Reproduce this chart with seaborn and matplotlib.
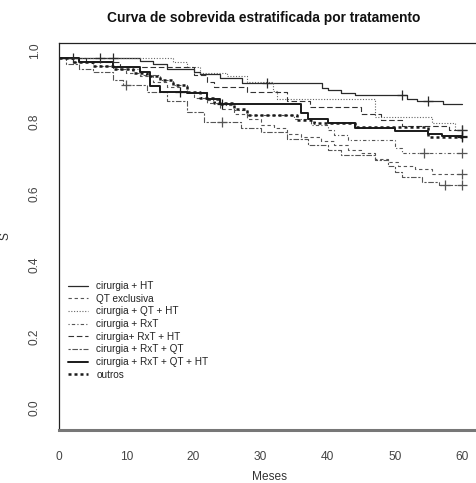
import numpy as np
import pandas as pd
import matplotlib
matplotlib.use("Agg")
import matplotlib.pyplot as plt
from matplotlib.lines import Line2D
from matplotlib.transforms import ScaledTranslation
import seaborn as sns

title = "Curva de sobrevida estratificada por tratamento"
xlabel = "Meses"
ylabel = "S"
x_ticks = [0, 10, 20, 30, 40, 50, 60]
x_tick_labels = ["0", "10", "20", "30", "40", "50", "60"]
y_ticks = [0.0, 0.2, 0.4, 0.6, 0.8, 1.0]
y_tick_labels = ["0.0", "0.2", "0.4", "0.6", "0.8", "1.0"]

groups = [
    "cirurgia + HT",
    "QT exclusiva",
    "cirurgia + QT + HT",
    "cirurgia + RxT",
    "cirurgia+ RxT + HT",
    "cirurgia + RxT + QT",
    "cirurgia + RxT + QT + HT",
    "outros",
]

# Kaplan-Meier steps: month of each drop and survival from that month on
t_hx = [0, 12, 14, 16, 20, 21, 24, 27.2, 39.1, 40, 42, 44, 51.8, 53.3, 57.1, 60]
s_hx = [1.0, 0.994, 0.985, 0.972, 0.963, 0.956, 0.946, 0.932, 0.917, 0.912, 0.903,
        0.898, 0.887, 0.881, 0.873, 0.873]

t_qt = [0, 2, 5, 8, 10, 12, 14, 16, 18, 20, 22, 24, 26, 28, 30, 32, 34, 36, 39, 41,
        43, 45, 47, 49, 50.5, 53, 55.5, 60]
s_qt = [1.0, 0.99, 0.98, 0.97, 0.96, 0.95, 0.935, 0.92, 0.905, 0.89, 0.875, 0.86,
        0.845, 0.83, 0.815, 0.805, 0.79, 0.78, 0.77, 0.758, 0.745, 0.735, 0.72, 0.71,
        0.70, 0.69, 0.678, 0.678]

t_qthx = [0, 17, 19, 21, 25, 28, 31.8, 32.5, 47, 55.5, 59, 60]
s_qthx = [1.0, 0.99, 0.975, 0.96, 0.95, 0.935, 0.91, 0.886, 0.836, 0.82, 0.80, 0.80]

t_rxt = [0, 3, 6, 9, 12, 15, 17, 19, 22, 24, 26, 28, 35, 37.5, 40, 41, 43, 50, 51, 60]
s_rxt = [1.0, 0.99, 0.98, 0.97, 0.955, 0.94, 0.925, 0.905, 0.885, 0.87, 0.855, 0.842,
         0.83, 0.814, 0.80, 0.785, 0.772, 0.75, 0.736, 0.736]

t_rxthx = [0, 4, 9, 20, 22, 23, 28, 34, 37.4, 45, 48, 51, 58, 60]
s_rxthx = [1.0, 0.99, 0.976, 0.954, 0.935, 0.921, 0.905, 0.881, 0.865, 0.844, 0.828,
           0.81, 0.80, 0.80]

t_rxtqt = [0, 1, 3, 5, 8, 9.5, 13, 16, 19, 21.5, 27, 30, 34, 37, 40, 42, 47, 49, 50,
           51, 54, 56.5, 60]
s_rxtqt = [1.0, 0.985, 0.97, 0.963, 0.94, 0.926, 0.905, 0.88, 0.851, 0.823, 0.805,
           0.795, 0.775, 0.758, 0.745, 0.73, 0.715, 0.70, 0.683, 0.669, 0.655, 0.645,
           0.645]

t_all = [0, 3, 8, 12, 13.5, 15, 19, 22, 24, 36, 37, 40, 44, 50, 55, 57, 60]
s_all = [1.0, 0.99, 0.975, 0.963, 0.923, 0.907, 0.903, 0.886, 0.874, 0.847, 0.830,
         0.819, 0.806, 0.797, 0.79, 0.783, 0.783]

t_out = [0, 2, 5, 8, 11, 13, 15, 17, 19, 21, 23, 26, 28, 35.4, 38, 44, 55, 60]
s_out = [1.0, 0.99, 0.98, 0.97, 0.96, 0.95, 0.94, 0.925, 0.905, 0.89, 0.875, 0.86,
         0.842, 0.828, 0.819, 0.808, 0.781, 0.781]

# censored observations (months) per group
c_hx = [2, 6, 8, 31, 51, 55]
c_qt = [60]
c_qthx = [60]
c_rxt = [54.3, 60]
c_rxthx = [60]
c_rxtqt = [10, 24.2, 57.5, 60]
c_all = [18, 24.2, 60]
c_out = [60]

times = [t_hx, t_qt, t_qthx, t_rxt, t_rxthx, t_rxtqt, t_all, t_out]
survs = [s_hx, s_qt, s_qthx, s_rxt, s_rxthx, s_rxtqt, s_all, s_out]
cens = [c_hx, c_qt, c_qthx, c_rxt, c_rxthx, c_rxtqt, c_all, c_out]

styles = {
    "cirurgia + HT": dict(color="#2a2a2a", ls="-", lw=0.9),
    "QT exclusiva": dict(color="#555555", ls=(0, (3, 2.5)), lw=0.8),
    "cirurgia + QT + HT": dict(color="#666666", ls=(0, (1, 1.5)), lw=0.8),
    "cirurgia + RxT": dict(color="#555555", ls=(0, (1, 2, 3, 2)), lw=0.8),
    "cirurgia+ RxT + HT": dict(color="#333333", ls=(0, (5, 2.5)), lw=0.8),
    "cirurgia + RxT + QT": dict(color="#555555", ls=(0, (2, 1.5, 5, 1.5)), lw=0.8),
    "cirurgia + RxT + QT + HT": dict(color="#1a1a1a", ls="-", lw=1.4),
    "outros": dict(color="#1a1a1a", ls=(0, (1.2, 1.2)), lw=1.8),
}

frames = []
marks = []
for g, t, s, c in zip(groups, times, survs, cens):
    frames.append(pd.DataFrame({"grupo": g, "meses": t, "S": s}))
    idx = np.searchsorted(np.array(t), np.array(c), side="right") - 1
    marks.append(pd.DataFrame({"grupo": g, "meses": c, "S": np.array(s)[idx]}))
curves = pd.concat(frames, ignore_index=True)
censored = pd.concat(marks, ignore_index=True)

sns.set_style("white")
plt.rcParams["font.family"] = ["Liberation Sans", "DejaVu Sans"]

W, H = 477, 483
fig = plt.figure(figsize=(W / 100, H / 100), dpi=100)
ax = fig.add_axes([59.3 / W, 53 / H, 420 / W, 387 / H])

for g in groups:
    st = styles[g]
    sub = curves[curves["grupo"] == g]
    sns.lineplot(data=sub, x="meses", y="S", ax=ax, drawstyle="steps-post",
                 estimator=None, sort=False, color=st["color"], linestyle=st["ls"],
                 linewidth=st["lw"], legend=False)
    cm = censored[censored["grupo"] == g]
    sns.scatterplot(data=cm, x="meses", y="S", ax=ax, marker="+", s=60,
                    color=st["color"], linewidth=0.9, legend=False, zorder=5)

px_per_month = (462.0 - 59.3) / 60
ax.set_xlim(0, 420 / px_per_month)
ax.set_ylim(-(430 - 416) / 357.5, 1 + (58.5 - 43) / 357.5)

ax.set_xticks(x_ticks)
ax.set_xticklabels(x_tick_labels)
ax.set_yticks(y_ticks)
ax.set_yticklabels(y_tick_labels, rotation=90, va="center")
ax.tick_params(axis="both", direction="out", length=5, width=0.8, color="#333333",
               labelsize=8.6, labelcolor="#444444")
ax.tick_params(axis="x", pad=10)
ax.tick_params(axis="y", pad=8.5)
shift = ScaledTranslation(0, 8 / 100, fig.dpi_scale_trans)
for lab in ax.get_yticklabels():
    lab.set_transform(lab.get_transform() + shift)

for side in ["left", "top", "right"]:
    ax.spines[side].set_color("#222222")
    ax.spines[side].set_linewidth(0.9)
ax.spines["bottom"].set_color("#777777")
ax.spines["bottom"].set_linewidth(2.2)

ax.set_xlabel(xlabel, fontsize=8.6, color="#333333", labelpad=6)
ax.set_ylabel(ylabel, fontsize=8.6, color="#333333", labelpad=12)
fig.text(264 / W, 1 - 18 / H, title, ha="center", va="center", fontsize=9.9,
         fontweight="bold", color="#111111")

handles = [Line2D([0], [0], color=styles[g]["color"], ls=styles[g]["ls"],
                  lw=styles[g]["lw"]) for g in groups]
ax.legend(handles, groups, loc="upper left",
          bbox_to_anchor=((68 - 59.3) / 420, (430 - 281) / 387),
          frameon=False, fontsize=7.2, handlelength=2.0, handletextpad=0.85,
          labelspacing=0.27, borderpad=0, borderaxespad=0, labelcolor="#222222")

fig.savefig("out.png", dpi=100)
